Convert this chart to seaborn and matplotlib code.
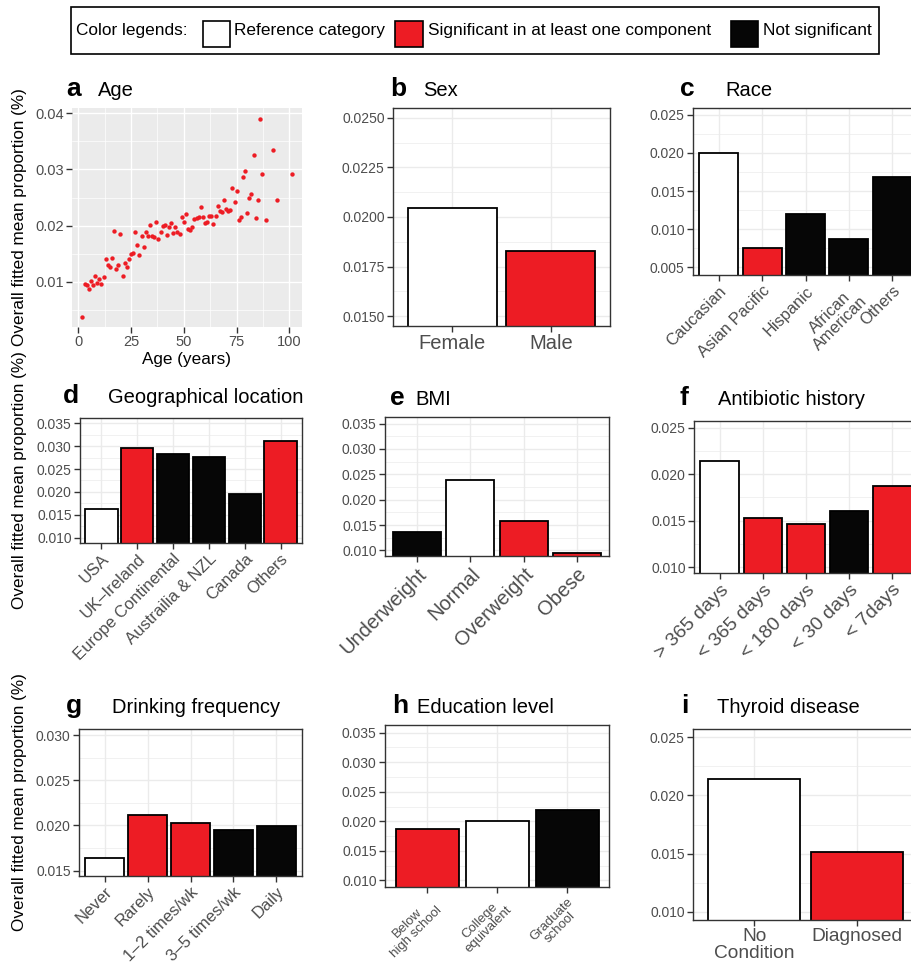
import numpy as np
import pandas as pd
import matplotlib
matplotlib.use("Agg")
import matplotlib.pyplot as plt
import seaborn as sns
from matplotlib.patches import Rectangle
from matplotlib.ticker import FixedLocator, FormatStrFormatter
from matplotlib import font_manager

# ---------------- data ----------------
age_years = [2, 3, 4, 5, 6, 7, 8, 9, 10, 11, 12, 13, 14, 15, 16, 17, 18, 19, 20,
             21, 22, 23, 24, 25, 26, 27, 28, 29, 30, 31, 32, 33, 34, 35, 36, 37, 38,
             39, 40, 41, 42, 43, 44, 45, 46, 47, 48, 49, 50, 51, 52, 53, 54, 55, 56,
             57, 58, 59, 60, 61, 62, 63, 64, 65, 66, 67, 68, 69, 70, 71, 72, 73, 74,
             75, 76, 77, 78, 79, 80, 81, 82, 83, 84, 85, 86, 87, 89, 92, 94, 101]
age_values = [0.0038, 0.0097, 0.0094, 0.0088, 0.0102, 0.0095, 0.0111, 0.0099, 0.0105,
              0.0096, 0.0108, 0.0140, 0.0131, 0.0127, 0.0142, 0.0191, 0.0123, 0.0131,
              0.0185, 0.0110, 0.0134, 0.0127, 0.0140, 0.0149, 0.0152, 0.0189, 0.0165,
              0.0148, 0.0181, 0.0162, 0.0188, 0.0182, 0.0201, 0.0181, 0.0180, 0.0207,
              0.0177, 0.0188, 0.0200, 0.0201, 0.0184, 0.0197, 0.0204, 0.0187, 0.0198,
              0.0188, 0.0185, 0.0216, 0.0206, 0.0220, 0.0194, 0.0193, 0.0197, 0.0212,
              0.0214, 0.0215, 0.0233, 0.0216, 0.0204, 0.0206, 0.0218, 0.0218, 0.0203,
              0.0217, 0.0235, 0.0226, 0.0224, 0.0245, 0.0229, 0.0226, 0.0228, 0.0267,
              0.0242, 0.0262, 0.0210, 0.0215, 0.0287, 0.0297, 0.0222, 0.0249, 0.0257,
              0.0326, 0.0214, 0.0245, 0.0389, 0.0291, 0.0210, 0.0335, 0.0245, 0.0291]

sex_categories = ["Female", "Male"]
sex_values = [0.02046, 0.01827]
sex_status = ["ref", "sig"]

race_categories = ["Caucasian", "Asian Pacific", "Hispanic", "African\nAmerican", "Others"]
race_values = [0.0200, 0.00753, 0.01203, 0.00871, 0.01683]
race_status = ["ref", "sig", "ns", "ns", "ns"]

geo_categories = ["USA", "UK\u2013Ireland", "Europe Continental", "Austrailia & NZL", "Canada", "Others"]
geo_values = [0.01638, 0.02957, 0.02826, 0.02754, 0.01957, 0.03116]
geo_status = ["ref", "sig", "ns", "ns", "ns", "sig"]

bmi_categories = ["Underweight", "Normal", "Overweight", "Obese"]
bmi_values = [0.01355, 0.02388, 0.01579, 0.00954]
bmi_status = ["ns", "ref", "sig", "sig"]

abx_categories = ["> 365 days", "< 365 days", "< 180 days", "< 30 days", "< 7days"]
abx_values = [0.02141, 0.01528, 0.01467, 0.01603, 0.01876]
abx_status = ["ref", "sig", "sig", "ns", "sig"]

drink_categories = ["Never", "Rarely", "1\u20132 times/wk", "3\u20135 times/wk", "Daily"]
drink_values = [0.01638, 0.02111, 0.02029, 0.01954, 0.01991]
drink_status = ["ref", "sig", "sig", "ns", "ns"]

edu_categories = ["Below\nhigh school", "College\nequivalent", "Graduate\nschool"]
edu_values = [0.01876, 0.0200, 0.02185]
edu_status = ["sig", "ref", "ns"]

thy_categories = ["No\nCondition", "Diagnosed"]
thy_values = [0.02139, 0.01513]
thy_status = ["ref", "sig"]

legend_labels = ["Reference category", "Significant in at least one component", "Not significant"]
status_colors = {"ref": "#FFFFFF", "sig": "#ED1C24", "ns": "#060606"}

# ---------------- style ----------------
sns.set_theme(style="white")
plt.rcParams["font.family"] = ["Liberation Sans", "DejaVu Sans"]
plt.rcParams["text.color"] = "black"
plt.rcParams["axes.labelcolor"] = "black"

W, H = 911, 967
fig = plt.figure(figsize=(W / 100, H / 100), dpi=100)

names = {f.name for f in font_manager.fontManager.ttflist}
if "Liberation Sans Narrow" in names:
    leg_font, leg_size = "Liberation Sans Narrow", 15
else:
    leg_font, leg_size = "Liberation Sans", 12.4

TICK_COL = "#4D4D4D"
LINE_COL = "#333333"


def fx(x):
    return x / W


def fy(y):
    return 1 - y / H


def make_axes(l, t, r, b):
    return fig.add_axes([fx(l), fy(b), (r - l) / W, (b - t) / H])


def add_title(letter, lx, tx, base, title):
    fig.text(fx(lx), fy(base), letter, fontsize=19, fontweight="bold", va="baseline",
             ha="left", color="black")
    fig.text(fx(tx), fy(base), title, fontsize=14.5, va="baseline", ha="left", color="black")


def ylab(ax, label_x=27):
    ax.set_ylabel("Overall fitted mean proportion (%)", fontsize=12.3, color="black")
    ax.yaxis.set_label_coords(
        label_x / W, 0.5,
        transform=matplotlib.transforms.blended_transform_factory(fig.transFigure, ax.transAxes))


def bar_panel(rect, cats, vals, status, ylim, yticks, fmt, xfs, rot, linesp=1.2):
    ax = make_axes(*rect)
    df = pd.DataFrame({"category": cats, "value": vals})
    pal = {c: status_colors[s] for c, s in zip(cats, status)}
    sns.barplot(data=df, x="category", y="value", hue="category", order=cats,
                palette=pal, saturation=1, width=0.9, edgecolor="black",
                linewidth=1.3, errorbar=None, legend=False, dodge=False, ax=ax)
    ax.set_xlim(-0.6, len(cats) - 0.4)
    ax.set_ylim(*ylim)
    ax.yaxis.set_major_locator(FixedLocator(yticks))
    step = yticks[1] - yticks[0]
    minors = [v + step / 2 for v in [yticks[0] - step] + list(yticks)]
    ax.yaxis.set_minor_locator(FixedLocator(minors))
    ax.yaxis.set_major_formatter(FormatStrFormatter(fmt))
    ax.set_facecolor("white")
    ax.set_axisbelow(True)
    ax.grid(which="major", color="#EBEBEB", linewidth=1.0)
    ax.grid(which="minor", axis="y", color="#EBEBEB", linewidth=0.5)
    ax.tick_params(which="minor", length=0)
    ax.tick_params(which="major", direction="out", length=4, width=1.0, color=LINE_COL,
                   labelcolor=TICK_COL, pad=2)
    ax.tick_params(axis="y", labelsize=10)
    ax.tick_params(axis="x", labelsize=xfs)
    ax.tick_params(bottom=True, left=True)
    for s in ax.spines.values():
        s.set_visible(True)
        s.set_color(LINE_COL)
        s.set_linewidth(1.0)
    ax.set_xlabel("")
    ax.set_ylabel("")
    for lab in ax.get_xticklabels():
        lab.set_multialignment("center")
        lab.set_linespacing(linesp)
        if rot:
            lab.set_rotation(45)
            lab.set_ha("right")
            lab.set_va("top")
            lab.set_rotation_mode("anchor")
    return ax


# ---------------- panel a ----------------
axa = make_axes(72, 108, 302, 327)
dfa = pd.DataFrame({"age": age_years, "value": age_values})
sns.scatterplot(data=dfa, x="age", y="value", color="#ED1C24", s=10, linewidth=0, ax=axa)
axa.set_xlim(-2.95, 105.95)
axa.set_ylim(0.0020, 0.0409)
axa.set_facecolor("#EBEBEB")
axa.xaxis.set_major_locator(FixedLocator([0, 25, 50, 75, 100]))
axa.xaxis.set_minor_locator(FixedLocator([12.5, 37.5, 62.5, 87.5]))
axa.yaxis.set_major_locator(FixedLocator([0.01, 0.02, 0.03, 0.04]))
axa.yaxis.set_minor_locator(FixedLocator([0.005, 0.015, 0.025, 0.035]))
axa.yaxis.set_major_formatter(FormatStrFormatter("%.2f"))
axa.set_axisbelow(True)
axa.grid(which="major", color="white", linewidth=1.0)
axa.grid(which="minor", color="white", linewidth=0.5)
axa.tick_params(which="minor", length=0)
axa.tick_params(which="major", direction="out", length=4, width=1.0, color=LINE_COL,
                labelcolor=TICK_COL, labelsize=10.5, pad=2, bottom=True, left=True)
for s in axa.spines.values():
    s.set_visible(False)
axa.set_xlabel("Age (years)", fontsize=12.3, color="black", labelpad=2)
ylab(axa)
add_title("a", 66, 98, 96, "Age")

# ---------------- panel b ----------------
axb = bar_panel((393, 108, 610, 326), sex_categories, sex_values, sex_status,
                (0.0145, 0.0255), [0.015, 0.0175, 0.02, 0.0225, 0.025], "%.4f", 14.5, False)
add_title("b", 390, 423, 96, "Sex")

# ---------------- panel c ----------------
axc = bar_panel((693, 108, 918, 275), race_categories, race_values, race_status,
                (0.0040, 0.0259), [0.005, 0.010, 0.015, 0.020, 0.025], "%.3f", 11.8, True, 1.0)
add_title("c", 680, 725, 96, "Race")

# ---------------- panel d ----------------
axd = bar_panel((80, 418, 302, 543), geo_categories, geo_values, geo_status,
                (0.0089, 0.0361), [0.010, 0.015, 0.020, 0.025, 0.030, 0.035], "%.3f", 12, True)
ylab(axd)
add_title("d", 63, 108, 403, "Geographical location")

# ---------------- panel e ----------------
axe = bar_panel((385, 417, 609, 556), bmi_categories, bmi_values, bmi_status,
                (0.0089, 0.0363), [0.010, 0.015, 0.020, 0.025, 0.030, 0.035], "%.3f", 14.5, True)
add_title("e", 390, 415, 405, "BMI")

# ---------------- panel f ----------------
axf = bar_panel((694, 421, 918, 573), abx_categories, abx_values, abx_status,
                (0.0094, 0.0257), [0.010, 0.015, 0.020, 0.025], "%.3f", 14, True)
add_title("f", 680, 718, 405, "Antibiotic history")

# ---------------- panel g ----------------
axg = bar_panel((79, 729, 302, 876), drink_categories, drink_values, drink_status,
                (0.0144, 0.0307), [0.015, 0.020, 0.025, 0.030], "%.3f", 12, True)
ylab(axg)
add_title("g", 66, 112, 713, "Drinking frequency")

# ---------------- panel h ----------------
axh = bar_panel((385, 725, 609, 887), edu_categories, edu_values, edu_status,
                (0.0089, 0.0363), [0.010, 0.015, 0.020, 0.025, 0.030, 0.035], "%.3f", 9.5, True, 1.0)
add_title("h", 392, 417, 713, "Education level")

# ---------------- panel i ----------------
axi = bar_panel((693, 729, 918, 920), thy_categories, thy_values, thy_status,
                (0.0093, 0.0257), [0.010, 0.015, 0.020, 0.025], "%.3f", 13.8, False, 0.95)
add_title("i", 681, 717, 713, "Thyroid disease")

# ---------------- legend box ----------------
fig.add_artist(Rectangle((fx(71), fy(54)), (879 - 71) / W, (54 - 7) / H,
                         transform=fig.transFigure, fill=False, edgecolor="black", linewidth=1.2))
fig.text(fx(76), fy(31), "Color legends:", fontsize=leg_size, family=leg_font, va="center", ha="left")
sq = [(203, 230, "ref"), (395, 423, "sig"), (731, 758, "ns")]
txt_x = [234, 428, 763]
for (x0, x1, key), tx, lab in zip(sq, txt_x, legend_labels):
    fig.add_artist(Rectangle((fx(x0), fy(47)), (x1 - x0) / W, 26 / H, transform=fig.transFigure,
                             facecolor=status_colors[key], edgecolor="black", linewidth=1.2))
    fig.text(fx(tx), fy(31), lab, fontsize=leg_size, family=leg_font, va="center", ha="left")

fig.savefig("out.png", dpi=100)
